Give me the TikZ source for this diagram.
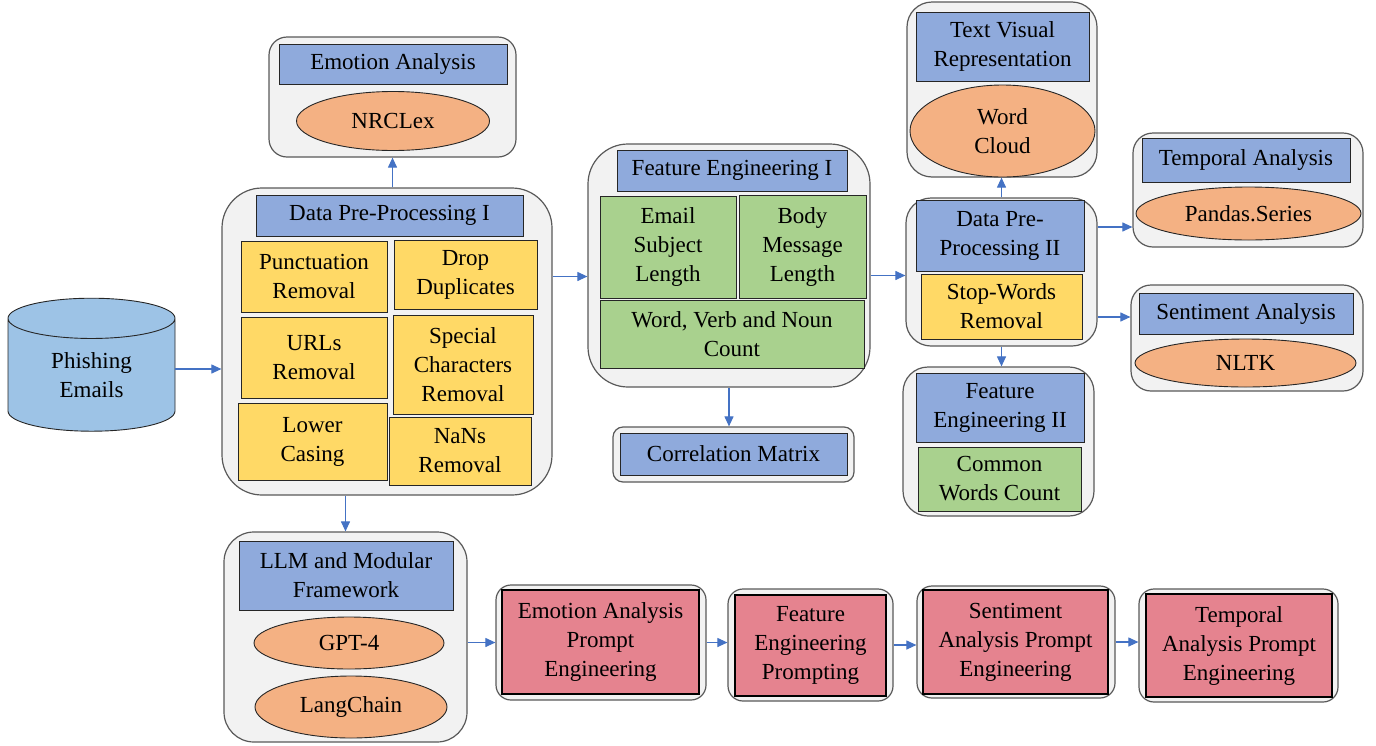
\documentclass[tikz,border=0pt]{standalone}
\usepackage{fontspec}
\setmainfont{Liberation Serif}
\usetikzlibrary{shapes.geometric,arrows.meta}

\definecolor{grpfill}{HTML}{F2F2F2}
\definecolor{grpline}{HTML}{595959}
\definecolor{boxline}{HTML}{262626}
\definecolor{hdrblue}{HTML}{8FAADC}
\definecolor{cylblue}{HTML}{9DC3E6}
\definecolor{ppyellow}{HTML}{FFD966}
\definecolor{fegreen}{HTML}{A9D18E}
\definecolor{toolorange}{HTML}{F4B183}
\definecolor{prmpink}{HTML}{E5838F}
\definecolor{arrblue}{HTML}{4472C4}

\tikzset{
  sz/.style 2 args={minimum width=#1pt, minimum height=#2pt},
  grp/.style={draw=grpline, fill=grpfill, line width=1.2pt, rounded corners=#1},
  grp/.default=25pt,
  hdr/.style={draw=boxline, fill=hdrblue, line width=0.9pt},
  ybox/.style={draw=boxline, fill=ppyellow, line width=0.9pt},
  gbox/.style={draw=boxline, fill=fegreen, line width=0.9pt},
  tool/.style={ellipse, draw=boxline, fill=toolorange, line width=0.9pt},
  prm/.style={draw=black, fill=prmpink, line width=2.2pt},
  flow/.style={draw=arrblue, line width=1.1pt, -{Triangle[length=10pt,width=9pt]}}
}

\begin{document}
\begin{tikzpicture}[x=1pt,y=1pt]
\tikzstyle{every node}+=[inner sep=0pt, align=center, font=\fontsize{23}{29}\selectfont]
\useasboundingbox (0,0) rectangle (1376,-745);

% source
\node[cylinder, shape border rotate=90, aspect=0.5, draw=boxline, line width=0.9pt,
      fill=cylblue, sz={167}{133}] (db) at (91.5,-375) {Phishing\\Emails};

% emotion analysis
\node[grp=18pt, sz={247}{120}] (emg) at (392.5,-97) {};
\node[hdr, sz={228}{40}] (emt) at (393,-64) {Emotion Analysis};
\node[tool, sz={193}{59}] (nrc) at (393,-121) {NRCLex};

% data pre-processing I
\node[grp=40pt, sz={330}{307}] (dpg) at (387,-341.5) {};
\node[hdr, sz={267}{41}] (dpt) at (389.5,-215.5) {Data Pre-Processing I};
\node[ybox, sz={146}{71}] (punct) at (314,-276.5) {Punctuation\\Removal};
\node[ybox, sz={143}{69}] (drop) at (465.5,-274.5) {Drop\\Duplicates};
\node[ybox, sz={146}{81}] (urls) at (314,-357.5) {URLs\\Removal};
\node[ybox, sz={140}{99}] (spec) at (463,-364.5) {Special\\Characters\\Removal};
\node[ybox, sz={149}{77}] (lower) at (312.5,-441.5) {Lower\\Casing};
\node[ybox, sz={142}{68}] (nans) at (460,-451) {NaNs\\Removal};

% feature engineering I
\node[grp=40pt, sz={282}{243}] (feg) at (729,-265.5) {};
\node[hdr, sz={230}{41}] (fet) at (732,-170.5) {Feature Engineering I};
\node[gbox, sz={136}{102}] (subj) at (668,-247) {Email\\Subject\\Length};
\node[gbox, sz={127}{103}] (body) at (802.5,-246.5) {Body\\Message\\Length};
\node[gbox, sz={264}{68}] (wvn) at (732,-334) {Word, Verb and Noun\\Count};
\node[grp=10pt, sz={241}{55}] (crg) at (733.5,-454.5) {};
\node[hdr, sz={227}{42}] (crt) at (733.5,-454) {Correlation Matrix};

% text visual representation
\node[grp=25pt, sz={190}{175}] (tvg) at (1002,-89.5) {};
\node[hdr, sz={173}{69}] (tvt) at (1002.5,-46.5) {Text Visual\\Representation};
\node[tool, sz={185}{92}] (cloud) at (1002.5,-131) {Word\\Cloud};

% data pre-processing II
\node[grp=25pt, sz={191}{148}] (d2g) at (1001.5,-272) {};
\node[hdr, sz={168}{71}] (d2t) at (1000,-235.5) {Data Pre-\\Processing II};
\node[ybox, sz={161}{65}] (stop) at (1001.5,-306.5) {Stop-Words\\Removal};

% feature engineering II
\node[grp=25pt, sz={191}{149}] (f2g) at (998.5,-441.5) {};
\node[hdr, sz={168}{69}] (f2t) at (1000,-407.5) {Feature\\Engineering II};
\node[gbox, sz={163}{64}] (common) at (999.5,-479) {Common\\Words Count};

% temporal analysis
\node[grp=20pt, sz={230}{114}] (tag) at (1248,-190) {};
\node[hdr, sz={208}{44}] (tat) at (1246,-160) {Temporal Analysis};
\node[tool, sz={225}{53}] (pandas) at (1248.5,-213.5) {Pandas.Series};

% sentiment analysis
\node[grp=20pt, sz={232}{106}] (sag) at (1247,-338) {};
\node[hdr, sz={214}{41}] (sat) at (1246,-313.5) {Sentiment Analysis};
\node[tool, sz={221}{48}] (nltk) at (1245.5,-363) {NLTK};

% llm and framework
\node[grp=30pt, sz={243}{210}] (llg) at (345.5,-637) {};
\node[hdr, sz={214}{69}] (llt) at (346,-575.5) {LLM and Modular\\Framework};
\node[tool, sz={190}{52}] (gpt) at (349,-643) {GPT-4};
\node[tool, sz={192}{62}] (lang) at (351,-707) {LangChain};

% prompt engineering chain
\node[grp=15pt, sz={210}{115}] (p1g) at (601,-642.5) {};
\node[prm, sz={197}{104}] (p1) at (600.5,-642) {Emotion Analysis\\Prompt\\Engineering};
\node[grp=15pt, sz={165}{112}] (p2g) at (810.5,-645) {};
\node[prm, sz={151}{101}] (p2) at (810.5,-645.5) {Feature\\Engineering\\Prompting};
\node[grp=15pt, sz={198}{112}] (p3g) at (1016,-642) {};
\node[prm, sz={185}{104}] (p3) at (1015.5,-642) {Sentiment\\Analysis Prompt\\Engineering};
\node[grp=15pt, sz={199}{113}] (p4g) at (1238.5,-645.5) {};
\node[prm, sz={186}{103}] (p4) at (1239,-645.5) {Temporal\\Analysis Prompt\\Engineering};

% connectors
\draw[flow] ([yshift=6pt]db.east) -- ([yshift=6pt]db.east -| dpg.west);
\draw[flow] (emg.south |- dpg.north) -- (emg.south);
\draw[flow] ([yshift=-11pt]feg.west -| dpg.east) -- ([yshift=-11pt]feg.west);
\draw[flow] ([yshift=-10pt]feg.east) -- ([yshift=-10pt]feg.east -| d2g.west);
\draw[flow] (feg.south) -- (feg.south |- crg.north);
\draw[flow] (d2g.north) -- (d2g.north |- tvg.south);
\draw[flow] ([yshift=45pt]d2g.east) -- ([yshift=45pt]d2g.east -| tag.west);
\draw[flow] ([yshift=-45pt]d2g.east) -- ([yshift=-45pt]d2g.east -| sag.west);
\draw[flow] (d2g.south) -- (d2g.south |- f2g.north);
\draw[flow] (llg.north |- dpg.south) -- (llg.north);
\draw[flow] (llg.east |- p1g.west) -- (p1g.west);
\draw[flow] (p1g.east) -- (p1g.east -| p2g.west);
\draw[flow] (p2g.east) -- (p2g.east -| p3g.west);
\draw[flow] (p3g.east) -- (p3g.east -| p4g.west);
\end{tikzpicture}
\end{document}
